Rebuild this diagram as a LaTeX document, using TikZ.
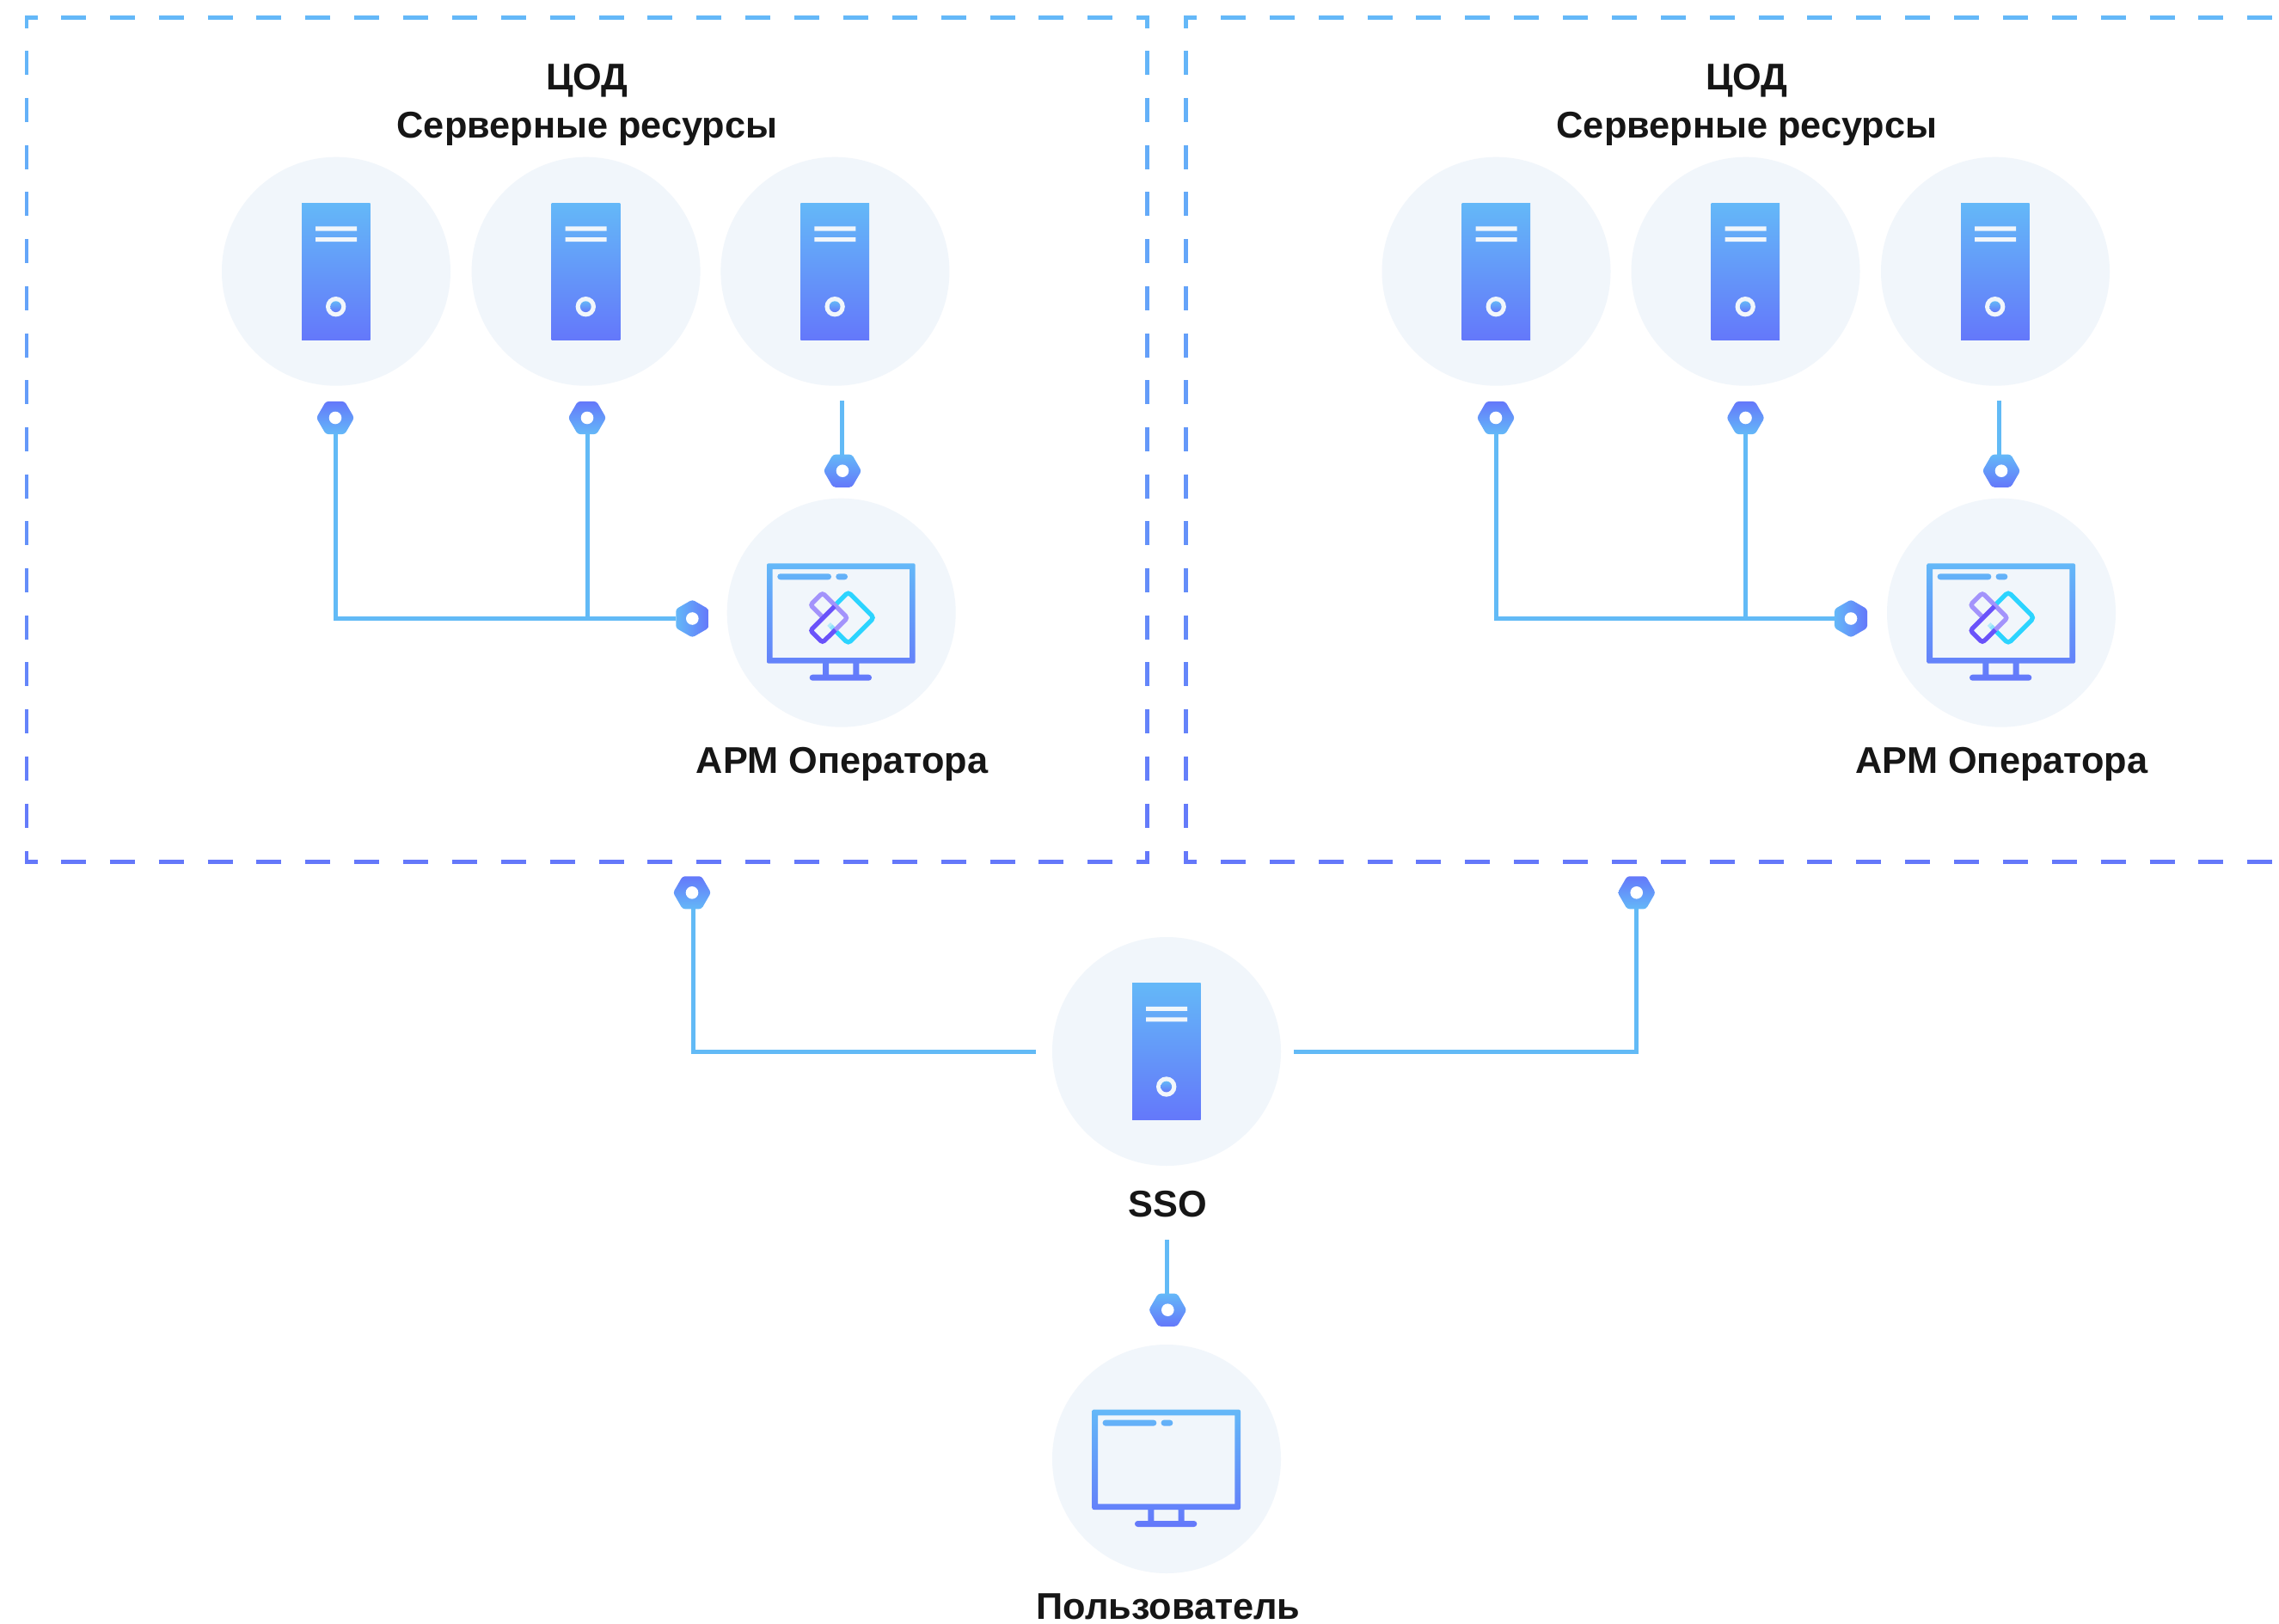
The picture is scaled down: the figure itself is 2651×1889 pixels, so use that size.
\documentclass[tikz,border=0pt]{standalone}
\usepackage{fontspec}
\setmainfont{Liberation Sans}
\usetikzlibrary{shapes.geometric}
\definecolor{cL}{HTML}{64B8F8}
\definecolor{cD}{HTML}{6478FA}
\definecolor{cBg}{HTML}{F1F6FB}
\definecolor{cLine}{HTML}{62BAF6}
\definecolor{cText}{HTML}{161616}
\definecolor{cCyan}{HTML}{2CD4FF}
\definecolor{cPurL}{HTML}{A393FB}
\definecolor{cPurD}{HTML}{6A52FA}
\tikzset{
  x=1pt,y=-1pt,
  disc/.style={circle,fill=cBg,minimum size=266pt,inner sep=0pt,outer sep=0pt},
  hexbase/.style={regular polygon,regular polygon sides=6,minimum size=44pt,inner sep=0pt,outer sep=0pt,rounded corners=3pt,shade,shading=axis},
  hexup/.style={hexbase,top color=cD,bottom color=cL},
  hexdown/.style={hexbase,top color=cL,bottom color=cD},
  hexright/.style={hexbase,shape border rotate=30,left color=cL,right color=cD},
  hole/.style={circle,fill=white,minimum size=14.6pt,inner sep=0pt,outer sep=0pt},
  link/.style={draw=cLine,line width=5pt},
  dashseg/.style={line width=4.6pt},
  label/.style={anchor=base,text=cText,font=\fontsize{43.3}{50}\selectfont\bfseries,inner sep=0pt},
  servericon/.pic={
    \shade[top color=cL,bottom color=cD] (-40,-79.4) rectangle (39.7,79.3);
    \fill[cBg] (-24,-52.2) rectangle (24,-47.2) (-24,-39.7) rectangle (24,-34.7);
    \fill[cBg] (-0.3,41) circle[radius=11.7pt];
    \shade[top color=cL,bottom color=cD] (-0.3,41) circle[radius=6.4pt];
  },
  screenicon/.pic={
    \shade[even odd rule,top color=cL,bottom color=cD]
      [rounded corners=2pt] (-86.7,-57.4) rectangle (86,59)
      [sharp corners] (-80,-50.7) rectangle (79.3,52.3)
      (-21.7,59) rectangle (-14.7,72) (13.6,59) rectangle (20.6,72)
      [rounded corners=3.4pt] (-37,72) rectangle (35.3,79)
      (-74.4,-45.4) rectangle (-11.7,-38.4)
      (-6.4,-45.4) rectangle (7.3,-38.4);
  },
  logoicon/.pic={
    \draw[cCyan,line width=5.3pt,rounded corners=4pt,line cap=butt]
      (-8,-8) -- (8,-24.2) -- (38,5.8) -- (8,35.8) -- (-7,20.8);
    \foreach \a/\b/\o in {-7/20.8/0.7,-9.5/18.3/0.5,-12/15.8/0.3}{
      \draw[cCyan,line width=5.3pt,opacity=\o] (\a,\b) -- ++(-2.5,-2.5);
    }
    \draw[cPurL,line width=5.3pt,rounded corners=3pt]
      (-23,4) -- (-36,-9) -- (-22,-23) -- (7,6) -- (-7,20);
    \draw[cPurD,line width=5.3pt,rounded corners=3pt]
      (-8,-7.3) -- (-36,20.7) -- (-22,34.7) -- (-7,20);
  }
}
\begin{document}
\begin{tikzpicture}
\useasboundingbox[fill=white] (0,0) rectangle (2651,1889);

% dashed frames, gradient from top to bottom
\foreach \k in {0,...,21}{
  \pgfmathsetmacro\xa{71+56.87*\k}
  \pgfmathsetmacro\xb{\xa+29}
  \draw[dashseg,cL] (\xa,20.3) -- (\xb,20.3);
  \draw[dashseg,cD] (\xa,1002.5) -- (\xb,1002.5);
  \pgfmathsetmacro\xc{1420+56.87*\k}
  \pgfmathsetmacro\xd{\xc+29}
  \draw[dashseg,cL] (\xc,20.3) -- (\xd,20.3);
  \draw[dashseg,cD] (\xc,1002.5) -- (\xd,1002.5);
}
\foreach \k in {0,...,16}{
  \pgfmathsetmacro\ya{59.3+54.7*\k}
  \pgfmathsetmacro\yb{\ya+28}
  \pgfmathsetmacro\pc{(\ya+14-20)/9.82}
  \foreach \xx in {31,1334.7,1379.3}{
    \draw[dashseg,cD!\pc!cL] (\xx,\ya) -- (\xx,\yb);
  }
}
\draw[dashseg,cL] (43.7,20.3) -- (31,20.3) -- (31,32.7);
\draw[dashseg,cL] (1322,20.3) -- (1334.7,20.3) -- (1334.7,32.7);
\draw[dashseg,cL] (1392,20.3) -- (1379.3,20.3) -- (1379.3,32.7);
\draw[dashseg,cD] (43.7,1002.5) -- (31,1002.5) -- (31,990);
\draw[dashseg,cD] (1322,1002.5) -- (1334.7,1002.5) -- (1334.7,990);
\draw[dashseg,cD] (1392,1002.5) -- (1379.3,1002.5) -- (1379.3,990);

% discs
\node[disc] (a1) at (391,315.7) {};
\node[disc] (a2) at (681.6,315.7) {};
\node[disc] (a3) at (971.4,315.7) {};
\node[disc] (aop) at (978.7,712.7) {};
\node[disc] (b1) at (1740.5,315.7) {};
\node[disc] (b2) at (2030.5,315.7) {};
\node[disc] (b3) at (2321,315.7) {};
\node[disc] (bop) at (2328,712.7) {};
\node[disc] (sso) at (1357,1223) {};
\node[disc] (user) at (1357,1697) {};

% icons
\foreach \n in {a1,a2,a3,b1,b2,b3,sso}{ \pic at (\n) {servericon}; }
\foreach \n in {aop,bop,user}{ \pic at (\n) {screenicon}; }
\foreach \n in {aop,bop}{ \pic at (\n) {logoicon}; }

% connector sockets
\node[hexup] (ha1) at (390,486) {};
\node[hexup] (ha2) at (683,486) {};
\node[hexdown] (ha3) at (980,547.7) {};
\node[hexright] (hao) at (805.3,719.5) {};
\node[hexup] (hb1) at (1740,486) {};
\node[hexup] (hb2) at (2030.5,486) {};
\node[hexdown] (hb3) at (2328,547.7) {};
\node[hexright] (hbo) at (2153,719.5) {};
\node[hexup] (hs1) at (805,1038.3) {};
\node[hexup] (hs2) at (1903.7,1038.3) {};
\node[hexdown] (hu) at (1358.3,1523.7) {};
\foreach \n in {ha1,ha2,ha3,hao,hb1,hb2,hb3,hbo,hs1,hs2,hu}{ \node[hole] (\n-hole) at (\n) {}; }

% free ends
\coordinate (ta3) at (979,466);
\coordinate (tb3) at (2325,466);
\coordinate (tl) at (1205,1223.5);
\coordinate (tr) at (1505,1223.5);
\coordinate (ts) at (1357.5,1442);

% connectors
\draw[link] (ha1.south) |- (hao.west);
\draw[link] (ha2.south) -- (ha2.south |- hao.west);
\draw[link] (ta3) -- (ta3 |- ha3.north);
\draw[link] (hb1.south) |- (hbo.west);
\draw[link] (hb2.south) -- (hb2.south |- hbo.west);
\draw[link] (tb3) -- (tb3 |- hb3.north);
\draw[link] ([xshift=1.5pt]hs1.south) |- (tl);
\draw[link] (hs2.south) |- (tr);
\draw[link] (ts) -- (ts |- hu.north);

% labels
\node[label] (t1a) at (683,104.3) {ЦОД};
\node[label] (t1b) at (683,160.7) {Серверные ресурсы};
\node[label] (t2a) at (2032,104.3) {ЦОД};
\node[label] (t2b) at (2032,160.7) {Серверные ресурсы};
\node[label] (la) at (979.6,899.5) {АРМ Оператора};
\node[label] (lb) at (2328.5,899.5) {АРМ Оператора};
\node[label] (ls) at (1358.5,1415) {SSO};
\node[label] (lu) at (1359,1883) {Пользователь};
\end{tikzpicture}
\end{document}
